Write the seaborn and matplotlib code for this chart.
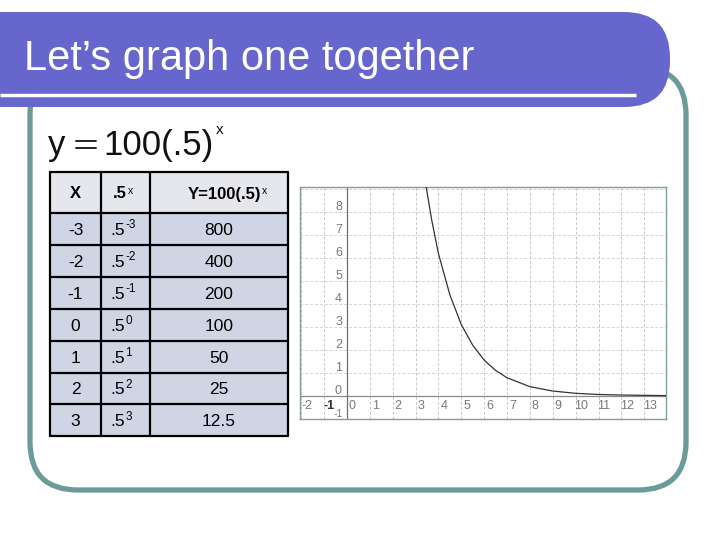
import matplotlib
matplotlib.use('Agg')
import matplotlib.pyplot as plt
from matplotlib.patches import FancyBboxPatch, Rectangle
import seaborn as sns

# table values
x_vals = ['-3', '-2', '-1', '0', '1', '2', '3']
pow_exps = ['-3', '-2', '-1', '0', '1', '2', '3']
y_vals = ['800', '400', '200', '100', '50', '25', '12.5']

# curve
curve_x = [3.4, 3.7, 4.0, 4.5, 5.0, 5.5, 6.0, 6.5, 7.0, 8.0, 9.0, 10.0, 11.0, 12.0, 13.0, 14.0]
curve_y = [9.5, 7.7, 6.2, 4.4, 3.1, 2.2, 1.55, 1.1, 0.78, 0.39, 0.2, 0.1, 0.05, 0.025, 0.012, 0.0]

x_ticks = list(range(-2, 14))
y_ticks = list(range(-1, 9))

sns.set_theme(style='white')
plt.rcParams['font.family'] = ['Liberation Sans', 'DejaVu Sans']

fig = plt.figure(figsize=(7.2, 5.4), dpi=100)
bg = fig.add_axes([0, 0, 1, 1])
bg.set_xlim(0, 720)
bg.set_ylim(540, 0)
bg.axis('off')

# slide frame
teal = '#6B9B99'
bg.add_patch(FancyBboxPatch((30, 67), 656, 423, boxstyle='round,pad=0,rounding_size=48',
                            fill=False, edgecolor=teal, linewidth=3.8))
bg.add_patch(FancyBboxPatch((-80, 12), 750, 95, boxstyle='round,pad=0,rounding_size=46',
                            facecolor='#6666CC', edgecolor='none'))
bg.plot([0, 636], [95, 95], color='white', linewidth=2.5, solid_capstyle='butt')
bg.text(24, 70, 'Let\u2019s graph one together', color='white', fontsize=30, va='baseline', ha='left')

# equation
eq = dict(fontsize=25, va='baseline', color='#111111')
bg.text(48, 155, 'y', ha='left', **eq)
bg.plot([76, 96], [141, 141], color='#111111', linewidth=1.3)
bg.plot([76, 96], [148, 148], color='#111111', linewidth=1.3)
bg.text(103, 155, '100(.5)', ha='left', **eq)
bg.text(216, 134, 'x', ha='left', fontsize=11, va='baseline', color='#111111')

# table
col_x = [50, 101, 150, 288]
row_y = [172, 213] + [213 + 31.9 * (i + 1) for i in range(7)]
for r in range(8):
    fc = '#E6E7EC' if r == 0 else '#CFD5E5'
    bg.add_patch(Rectangle((col_x[0], row_y[r]), col_x[-1] - col_x[0], row_y[r + 1] - row_y[r],
                           facecolor=fc, edgecolor='none'))
for yy in row_y:
    bg.plot([col_x[0], col_x[-1]], [yy, yy], color='black', linewidth=1.6)
for xx in col_x:
    bg.plot([xx, xx], [row_y[0], row_y[-1]], color='black', linewidth=1.6)

hb = (row_y[0] + row_y[1]) / 2 + 6
hd = dict(fontsize=12, fontweight='bold', va='baseline', color='black')
bg.text(75.5, hb, 'X', ha='center', **hd)
bg.text(127, hb, '.5', ha='right', **hd)
bg.text(127.5, hb - 5, 'x', ha='left', fontsize=7.5, va='baseline', color='black')
bg.text(261, hb, 'Y=100(.5)', ha='right', **hd)
bg.text(261.5, hb - 5, 'x', ha='left', fontsize=7.5, va='baseline', color='black')

cell = dict(fontsize=12.5, va='baseline', color='black')
for r in range(7):
    cb = (row_y[r + 1] + row_y[r + 2]) / 2 + 6
    bg.text((col_x[0] + col_x[1]) / 2, cb, x_vals[r], ha='center', **cell)
    bg.text(125, cb, '.5', ha='right', **cell)
    bg.text(125.5, cb - 6.5, pow_exps[r], ha='left', fontsize=8.5, va='baseline', color='black')
    bg.text((col_x[2] + col_x[3]) / 2, cb, y_vals[r], ha='center', **cell)

# small graph
gx = fig.add_axes([300 / 720, (540 - 419) / 540, 366 / 720, 232 / 540])
gx.set_xlim(-2.05, 13.95)
gx.set_ylim(-1.02, 9.1)
for v in x_ticks + [14]:
    gx.axvline(v, color='#C8C8C8', linewidth=0.7, linestyle=(0, (3, 2)), zorder=0)
for v in y_ticks + [9]:
    gx.axhline(v, color='#D4D4D4', linewidth=0.7, linestyle=(0, (3, 2)), zorder=0)
gx.axhline(0, color='#8A8A8A', linewidth=0.9, zorder=1)
gx.axvline(0, color='#707070', linewidth=0.9, zorder=1)
sns.lineplot(x=curve_x, y=curve_y, ax=gx, color='#333333', linewidth=0.9, zorder=3)
gx.set_xticks([])
gx.set_yticks([])
gx.set_xlabel('')
gx.set_ylabel('')
for s in gx.spines.values():
    s.set_color('#7F9E9C')
    s.set_linewidth(1.0)

lab = dict(fontsize=9, color='#7A7A7A', ha='center', va='center', clip_on=True)
for v in x_ticks:
    if v == -1:
        gx.text(-0.78, -0.46, '-1', fontsize=9, color='#333333', ha='center', va='center', fontweight='bold')
    else:
        gx.text(v + 0.24, -0.46, str(v), **lab)
for v in y_ticks:
    if v == -1:
        gx.text(-0.36, -0.82, '-1', fontsize=7.5, color='#7A7A7A', ha='center', va='center')
    elif v == 0:
        gx.text(-0.4, 0.2, '0', **lab)
    else:
        gx.text(-0.36, v + 0.22, str(v), **lab)

fig.savefig('out.png', dpi=100)
